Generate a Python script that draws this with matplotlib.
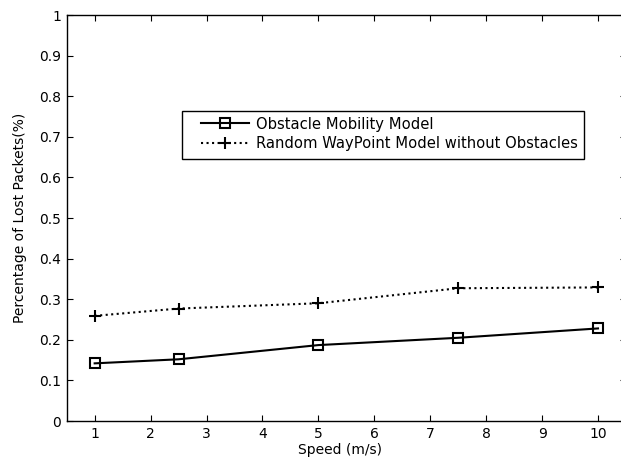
import matplotlib
matplotlib.use("Agg")
import matplotlib.pyplot as plt
from matplotlib.patches import Rectangle

# Data
speed = [1, 2.5, 5, 7.5, 10]
obstacle_loss = [0.142, 0.152, 0.187, 0.205, 0.228]
rwp_loss = [0.259, 0.277, 0.290, 0.327, 0.329]
x_ticks = [1, 2, 3, 4, 5, 6, 7, 8, 9, 10]
y_ticks = [0, 0.1, 0.2, 0.3, 0.4, 0.5, 0.6, 0.7, 0.8, 0.9, 1]
y_tick_labels = ["0", "0.1", "0.2", "0.3", "0.4", "0.5", "0.6", "0.7", "0.8", "0.9", "1"]

plt.rcParams['font.family'] = ['DejaVu Sans']

fig = plt.figure(figsize=(6.21, 4.63), dpi=100)
ax = fig.add_axes([0.1074, 0.0907, 0.9006, 0.8769])

ax.plot(speed, obstacle_loss, color='black', linestyle='-', linewidth=1.5,
        marker='s', markersize=7.5, markerfacecolor='none', markeredgewidth=1.5,
        label='Obstacle Mobility Model')
ax.plot(speed, rwp_loss, color='black', linestyle=':', linewidth=1.5,
        marker='+', markersize=8.5, markeredgewidth=1.5,
        label='Random WayPoint Model without Obstacles')

ax.set_xlim(0.5, 10.5)
ax.set_ylim(0, 1)
ax.set_xticks(x_ticks)
ax.set_yticks(y_ticks)
ax.set_yticklabels(y_tick_labels)
ax.tick_params(direction='in', length=4, top=True, right=True, labelsize=10, pad=4)
for s in ax.spines.values():
    s.set_linewidth(1.0)

ax.set_xlabel("Speed (m/s)", fontsize=10, labelpad=2)
ax.xaxis.set_label_coords(0.488, -0.055)
ax.set_ylabel("Percentage of Lost Packets(%)", fontsize=10, labelpad=9)

# legend contents without frame, frame drawn separately (wide left margin like the original)
leg = ax.legend(loc='upper left', bbox_to_anchor=(0.241, 0.750), borderaxespad=0,
                frameon=False, fontsize=10.6, handlelength=3.2, borderpad=0,
                labelspacing=0.3, handletextpad=0.5)
ax.add_patch(Rectangle((0.2054, 0.645), 0.7201, 0.119, transform=ax.transAxes,
                       fill=False, edgecolor='black', linewidth=1.0, zorder=5))

fig.savefig("out.png", dpi=100)
